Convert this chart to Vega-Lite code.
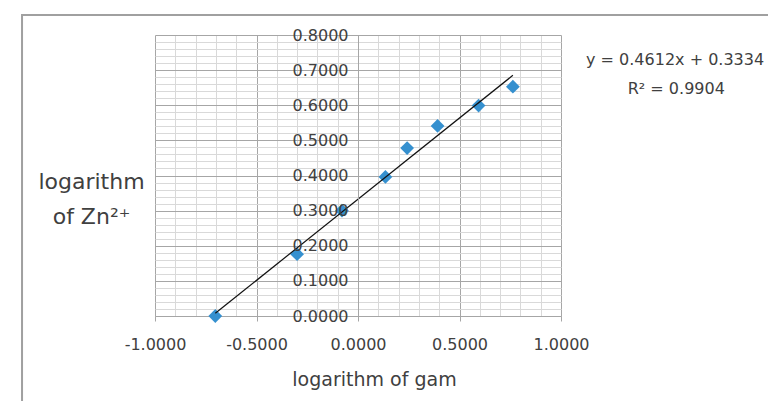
{
  "$schema": "https://vega.github.io/schema/vega-lite/v6.json",
  "width": 406,
  "height": 281,
  "autosize": {"type": "none"},
  "padding": {"left": 155, "top": 35, "right": 207, "bottom": 85},
  "background": "white",
  "config": {
    "view": {"stroke": null},
    "font": "DejaVu Sans",
    "axis": {
      "labelFont": "DejaVu Sans",
      "titleFont": "DejaVu Sans",
      "labelColor": "#404040",
      "titleColor": "#404040",
      "titleFontWeight": "normal",
      "gridWidth": 1,
      "labelFlush": false,
      "labelOverlap": false,
      "labelBound": false
    }
  },
  "resolve": {"axis": {"x": "independent", "y": "independent"}},
  "layer": [
    {
      "data": {"values": [{"frame": 1}]},
      "mark": {"type": "rect", "filled": false, "stroke": "#a0a0a0", "strokeWidth": 2},
      "encoding": {
        "x": {"datum": -1.655, "type": "quantitative", "scale": {"domain": [-1, 1], "nice": false, "zero": false}, "axis": null},
        "x2": {"datum": 2.6},
        "y": {"datum": 0.857, "type": "quantitative", "scale": {"domain": [0, 0.8], "nice": false, "zero": false}, "axis": null},
        "y2": {"datum": -0.7}
      }
    },
    {
      "data": {"name": "pts", "values": [
        {"x": -0.703, "y": 0.000},
        {"x": -0.300, "y": 0.176},
        {"x": -0.079, "y": 0.300},
        {"x": 0.135, "y": 0.396},
        {"x": 0.242, "y": 0.478},
        {"x": 0.392, "y": 0.541},
        {"x": 0.594, "y": 0.599},
        {"x": 0.763, "y": 0.653}
      ]},
      "mark": {"type": "point", "shape": "diamond", "filled": true, "color": "#3590cf", "size": 190, "opacity": 1},
      "encoding": {
        "x": {"field": "x", "type": "quantitative", "scale": {"domain": [-1, 1], "nice": false, "zero": false},
          "axis": {"orient": "bottom", "values": [-0.9, -0.8, -0.7, -0.6, -0.4, -0.3, -0.2, -0.1, 0.1, 0.2, 0.3, 0.4, 0.6, 0.7, 0.8, 0.9], "grid": true, "gridColor": "#d9d9d9", "labels": false, "ticks": false, "domain": false, "title": null, "zindex": 0}},
        "y": {"field": "y", "type": "quantitative", "scale": {"domain": [0, 0.8], "nice": false, "zero": false},
          "axis": {"orient": "left", "offset": -203, "values": [0, 0.1, 0.2, 0.3, 0.4, 0.5, 0.6, 0.7, 0.8], "format": ".4f", "grid": false,
            "labelFontSize": 16, "labelPadding": 5, "tickSize": 5, "tickColor": "#a6a6a6", "domainColor": "#a6a6a6",
            "title": ["logarithm", "of Zn²⁺"], "titleAngle": 0, "titleX": -267, "titleY": 153, "titleAlign": "center", "titleBaseline": "alphabetic",
            "titleFontSize": 22, "titleLineHeight": 35, "zindex": 1}}
      }
    },
    {
      "data": {"name": "pts"},
      "transform": [{"regression": "y", "on": "x", "method": "linear"}],
      "mark": {"type": "line", "color": "#111111", "strokeWidth": 1.2},
      "encoding": {
        "x": {"field": "x", "type": "quantitative", "scale": {"domain": [-1, 1], "nice": false, "zero": false},
          "axis": {"orient": "bottom", "values": [-1, -0.5, 0, 0.5, 1], "labelExpr": "replace(format(datum.value, '.4f'), '\u2212', '-')", "grid": true, "gridColor": "#a6a6a6",
            "domainColor": "#a6a6a6", "tickColor": "#a6a6a6", "tickSize": 5, "labelFontSize": 16, "labelPadding": 15,
            "title": "logarithm of gam", "titleFontSize": 19, "titleX": 219, "titleY": 69, "titleBaseline": "alphabetic", "titleAlign": "center", "zindex": 0}},
        "y": {"field": "y", "type": "quantitative", "scale": {"domain": [0, 0.8], "nice": false, "zero": false},
          "axis": {"orient": "left", "values": [0, 0.1, 0.2, 0.3, 0.4, 0.5, 0.6, 0.7, 0.8], "grid": true, "gridColor": "#a6a6a6", "labels": false, "ticks": false, "domain": false, "title": null, "zindex": 0}}
      }
    },
    {
      "data": {"values": [{"label": "y = 0.4612x + 0.3334"}]},
      "mark": {"type": "text", "fontSize": 16, "font": "DejaVu Sans", "color": "#404040", "align": "center", "baseline": "middle"},
      "encoding": {
        "x": {"datum": 1.562, "type": "quantitative", "scale": {"domain": [-1, 1], "nice": false, "zero": false}, "axis": null},
        "y": {"datum": 0.729, "type": "quantitative", "scale": {"domain": [0, 0.8], "nice": false, "zero": false},
          "axis": {"orient": "left", "values": [0.02, 0.04, 0.06, 0.08, 0.12, 0.14, 0.16, 0.18, 0.22, 0.24, 0.26, 0.28, 0.32, 0.34, 0.36, 0.38, 0.42, 0.44, 0.46, 0.48, 0.52, 0.54, 0.56, 0.58, 0.62, 0.64, 0.66, 0.68, 0.72, 0.74, 0.76, 0.78], "grid": true, "gridColor": "#d9d9d9", "labels": false, "ticks": false, "domain": false, "title": null, "zindex": 0}},
        "text": {"field": "label", "type": "nominal"}
      }
    },
    {
      "data": {"values": [{"label": "R² = 0.9904"}]},
      "mark": {"type": "text", "fontSize": 16, "font": "DejaVu Sans", "color": "#404040", "align": "center", "baseline": "middle"},
      "encoding": {
        "x": {"datum": 1.568, "type": "quantitative", "scale": {"domain": [-1, 1], "nice": false, "zero": false}, "axis": null},
        "y": {"datum": 0.646, "type": "quantitative", "scale": {"domain": [0, 0.8], "nice": false, "zero": false}, "axis": null},
        "text": {"field": "label", "type": "nominal"}
      }
    }
  ]
}
